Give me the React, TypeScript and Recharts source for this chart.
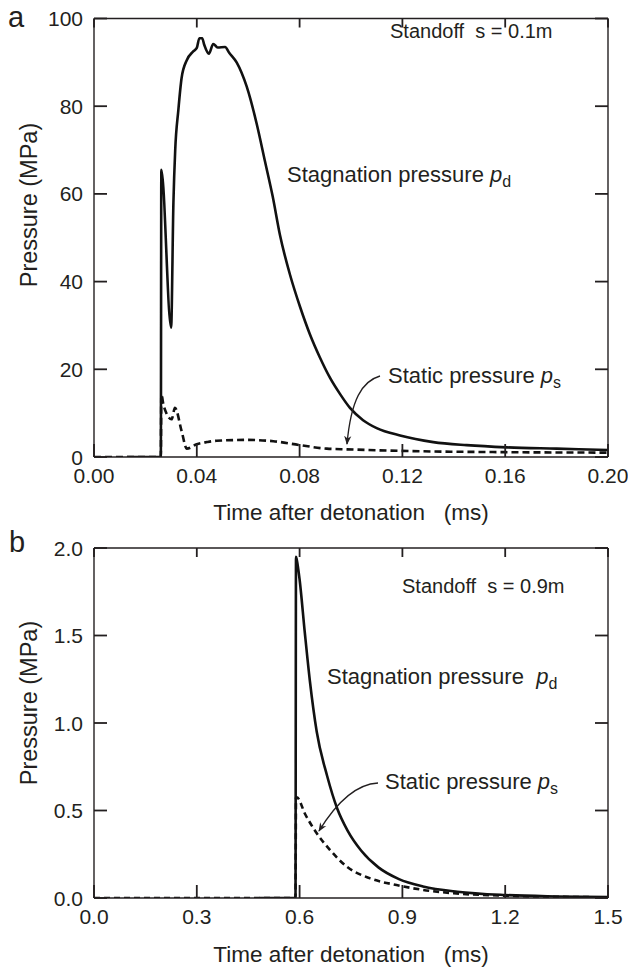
import React from 'react';
import { LineChart, Line, XAxis, YAxis } from 'recharts';

// panel a, standoff 0.1 m
const tPdA = [0.0128, 0.026, 0.0262, 0.03, 0.0309, 0.0316, 0.0328, 0.0341, 0.0361, 0.0386, 0.04, 0.041, 0.0421, 0.0429, 0.0447, 0.0464, 0.0481, 0.051, 0.0526, 0.0555, 0.0594, 0.0633, 0.0665, 0.0695, 0.0724, 0.0763, 0.0802, 0.084, 0.0879, 0.0918, 0.0957, 0.0996, 0.1047, 0.11, 0.1191, 0.132, 0.145, 0.1606, 0.18, 0.2];
const pdA = [0, 0, 65.5, 29.5, 58, 70, 79, 86.5, 90.5, 92.5, 93.3, 95.5, 95.5, 94, 92, 94.2, 93.4, 93.5, 92.2, 90, 84.5, 76, 67.5, 59.5, 50.5, 41.5, 34.2, 28, 22.7, 18.1, 14.4, 11.2, 8.4, 6.6, 4.9, 3.4, 2.7, 2.2, 1.9, 1.6];
const tPsA = [0, 0.026, 0.0262, 0.027, 0.0283, 0.0302, 0.0315, 0.0341, 0.0361, 0.04, 0.044, 0.0477, 0.0594, 0.0698, 0.0802, 0.0906, 0.0983, 0.1191, 0.1606, 0.2];
const psA = [0, 0, 14.3, 12, 9.8, 8.6, 11.2, 5.9, 1.9, 2.9, 3.4, 3.7, 3.9, 3.6, 2.7, 1.9, 1.75, 1.4, 1.1, 1.0];
const xTicksA = [0, 0.04, 0.08, 0.12, 0.16, 0.2];
const yTicksA = [0, 20, 40, 60, 80, 100];

// panel b, standoff 0.9 m
const tPdB = [0.483, 0.588, 0.5895, 0.592, 0.6, 0.615, 0.63, 0.65, 0.68, 0.71, 0.74, 0.78, 0.83, 0.89, 0.96, 1.06, 1.2, 1.35, 1.5];
const pdB = [0, 0, 1.95, 1.93, 1.82, 1.52, 1.24, 0.95, 0.7, 0.51, 0.385, 0.27, 0.175, 0.108, 0.066, 0.036, 0.017, 0.009, 0.005];
const tPsB = [0, 0.588, 0.5895, 0.592, 0.616, 0.65, 0.689, 0.737, 0.806, 0.883, 0.961, 1.05, 1.2, 1.35, 1.5];
const psB = [0, 0, 0.575, 0.575, 0.48, 0.37, 0.274, 0.18, 0.112, 0.074, 0.046, 0.027, 0.013, 0.007, 0.004];
const xTicksB = [0, 0.3, 0.6, 0.9, 1.2, 1.5];
const yTicksB = [0, 0.5, 1, 1.5, 2];

const INK = '#231f20';
const FONT = '"Liberation Sans", Arial, sans-serif';
const W = 628;
const Y_AXIS_W = 94;
const RIGHT = 19;
const X_AXIS_H = 40;

const zip = (ts: number[], ps: number[]) => ts.map((t, i) => ({ t, p: ps[i] }));

type PanelProps = {
  top: number;
  height: number;
  marginTop: number;
  marginBottom: number;
  pd: { t: number; p: number }[];
  ps: { t: number; p: number }[];
  xTicks: number[];
  yTicks: number[];
  xDigits: number;
  yDigits: number;
  dash: string;
};

const Panel = ({ top, height, marginTop, marginBottom, pd, ps, xTicks, yTicks, xDigits, yDigits, dash }: PanelProps) => {
  const xDomain = [xTicks[0], xTicks[xTicks.length - 1]];
  const yDomain = [yTicks[0], yTicks[yTicks.length - 1]];
  const axisLine = { stroke: INK, strokeWidth: 1.4 };
  // plot edges, chart coordinates (inward ticks hang off them)
  const pl = Y_AXIS_W;
  const pr = W - RIGHT - 1;
  const pt = marginTop + 1;
  const pb = height - marginBottom - X_AXIS_H;
  const tk = { stroke: INK, strokeWidth: 1.8 };
  const txt = { fill: INK, fontSize: 21, fontFamily: FONT };

  const bottomTick = (p: any) => {
    const c = p.payload.coordinate;
    return (
      <g>
        <line x1={c} x2={c} y1={pb} y2={pb - 13} {...tk} />
        <text x={c} y={pb + 26} textAnchor="middle" {...txt}>{Number(p.payload.value).toFixed(xDigits)}</text>
      </g>
    );
  };
  const leftTick = (p: any) => {
    const c = p.payload.coordinate;
    const v = Number(p.payload.value);
    return (
      <g>
        <line x1={pl} x2={pl + 13} y1={c} y2={c} {...tk} />
        <text x={pl - 11} y={c} dy="0.36em" textAnchor="end" {...txt}>{yDigits ? v.toFixed(yDigits) : String(v)}</text>
      </g>
    );
  };
  const topTick = (p: any) => {
    const c = p.payload.coordinate;
    return <line x1={c} x2={c} y1={pt} y2={pt + 9} {...tk} />;
  };
  const rightTick = (p: any) => {
    const c = p.payload.coordinate;
    return <line x1={pr} x2={pr - 13} y1={c} y2={c} {...tk} />;
  };

  return (
    <div style={{ position: 'absolute', left: 0, top }}>
      <LineChart width={W} height={height} margin={{ top: marginTop, right: RIGHT, bottom: marginBottom, left: 0 }}>
        <XAxis xAxisId="x" type="number" dataKey="t" domain={xDomain} ticks={xTicks} allowDataOverflow
          height={X_AXIS_H} tickLine={false} axisLine={axisLine} tick={bottomTick} interval={0} />
        <XAxis xAxisId="top" orientation="top" type="number" dataKey="t" domain={xDomain} ticks={xTicks} allowDataOverflow
          height={1} tickLine={false} tick={topTick} axisLine={axisLine} interval={0} />
        <YAxis yAxisId="y" type="number" domain={yDomain} ticks={yTicks} allowDataOverflow
          width={Y_AXIS_W} tickLine={false} axisLine={axisLine} tick={leftTick} interval={0} />
        <YAxis yAxisId="right" orientation="right" type="number" domain={yDomain} ticks={yTicks} allowDataOverflow
          width={1} tickLine={false} tick={rightTick} axisLine={axisLine} interval={0} />
        <Line xAxisId="x" yAxisId="y" data={ps} dataKey="p" type="monotone" stroke="#111" strokeWidth={2.6}
          strokeDasharray={dash} dot={false} isAnimationActive={false} />
        <Line xAxisId="x" yAxisId="y" data={pd} dataKey="p" type="monotone" stroke="#111" strokeWidth={2.6}
          dot={false} isAnimationActive={false} />
      </LineChart>
    </div>
  );
};

const Sub = ({ x, y, main, sub }: { x: number; y: number; main: string; sub: string }) => (
  <text x={x} y={y} fill={INK} fontSize={22} fontFamily={FONT} style={{ whiteSpace: 'pre' }}>
    {main}
    <tspan fontStyle="italic">p</tspan>
    <tspan fontSize={16} dy={5}>{sub}</tspan>
  </text>
);

export default function App() {
  return (
    <div style={{ position: 'absolute', left: 0, top: 0, width: W, height: 976, background: '#fff' }}>
      <Panel top={0} height={530} marginTop={17.5} marginBottom={33} pd={zip(tPdA, pdA)} ps={zip(tPsA, psA)}
        xTicks={xTicksA} yTicks={yTicksA} xDigits={2} yDigits={0} dash="7 4" />
      <Panel top={500} height={476} marginTop={47} marginBottom={38} pd={zip(tPdB, pdB)} ps={zip(tPsB, psB)}
        xTicks={xTicksB} yTicks={yTicksB} xDigits={1} yDigits={1} dash="6 4" />
      <svg width={W} height={976} style={{ position: 'absolute', left: 0, top: 0, pointerEvents: 'none' }}>
        <defs>
          <marker id="arr" viewBox="0 0 10 10" refX="9" refY="5" markerWidth="9" markerHeight="9" orient="auto" markerUnits="userSpaceOnUse">
            <path d="M0,1 L10,5 L0,9 L3,5 Z" fill={INK} />
          </marker>
        </defs>
        <text x={8} y={27} fill={INK} fontSize={29} fontFamily={FONT}>a</text>
        <text x={9} y={552} fill={INK} fontSize={29} fontFamily={FONT}>b</text>
        <text transform="translate(29,205) rotate(-90)" textAnchor="middle" dominantBaseline="central" fill={INK} fontSize={23.5} fontFamily={FONT}>Pressure (MPa)</text>
        <text transform="translate(29,703) rotate(-90)" textAnchor="middle" dominantBaseline="central" fill={INK} fontSize={23.5} fontFamily={FONT}>Pressure (MPa)</text>
        <text x={351} y={520} textAnchor="middle" fill={INK} fontSize={22.5} fontFamily={FONT} style={{ whiteSpace: 'pre' }}>Time after detonation   (ms)</text>
        <text x={351} y={962} textAnchor="middle" fill={INK} fontSize={22.5} fontFamily={FONT} style={{ whiteSpace: 'pre' }}>Time after detonation   (ms)</text>
        <text x={390} y={38} fill={INK} fontSize={20} fontFamily={FONT} style={{ whiteSpace: 'pre' }}>Standoff  s = 0.1m</text>
        <text x={402} y={593} fill={INK} fontSize={20} fontFamily={FONT} style={{ whiteSpace: 'pre' }}>Standoff  s = 0.9m</text>
        <Sub x={287} y={182} main="Stagnation pressure " sub="d" />
        <Sub x={327} y={684} main="Stagnation pressure  " sub="d" />
        <Sub x={388} y={383} main="Static pressure " sub="s" />
        <Sub x={385} y={789} main="Static pressure " sub="s" />
        <path d="M380,376 C362,381 351,400 347,444" fill="none" stroke={INK} strokeWidth={1.3} markerEnd="url(#arr)" />
        <path d="M378,783 C358,784 338,800 319,831" fill="none" stroke={INK} strokeWidth={1.3} markerEnd="url(#arr)" />
      </svg>
    </div>
  );
}
